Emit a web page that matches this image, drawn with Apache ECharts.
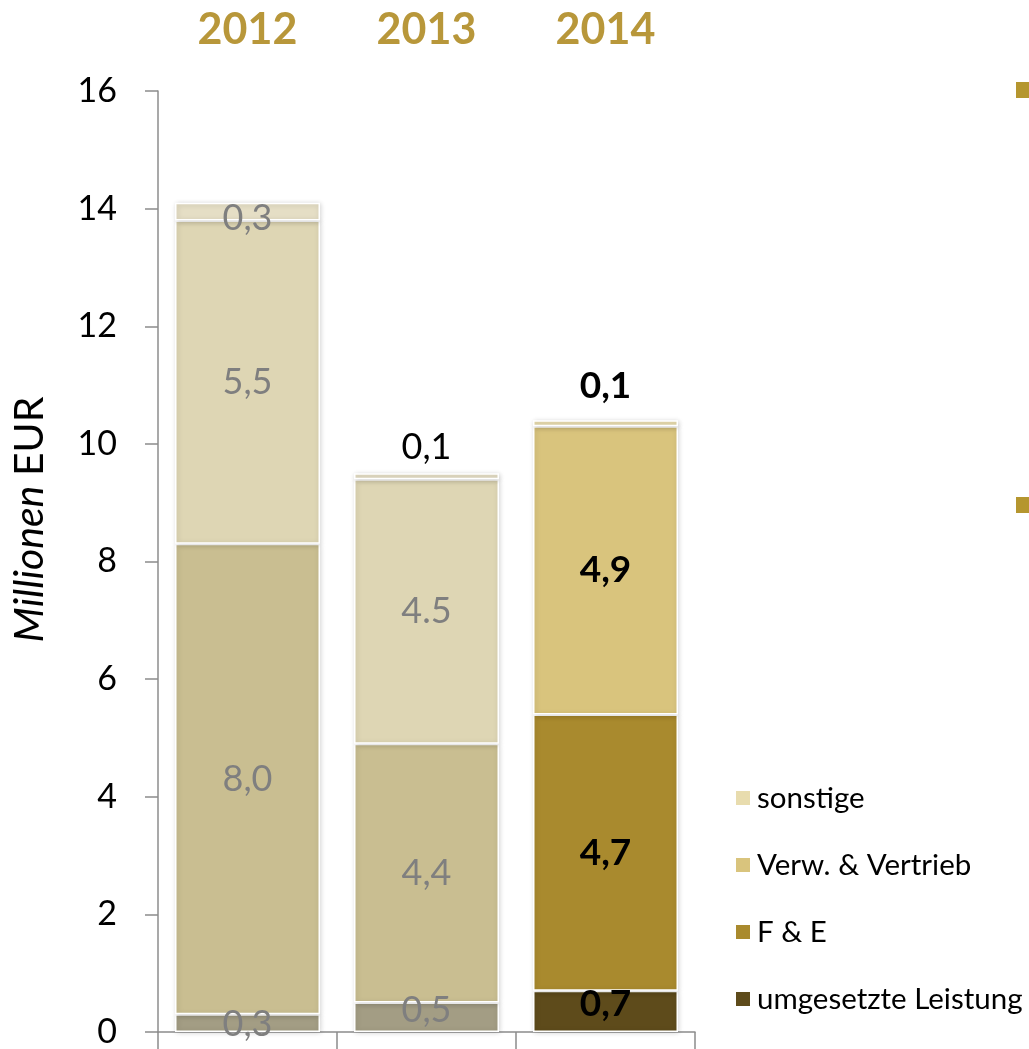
<!DOCTYPE html>
<html>
<head>
<meta charset="utf-8">
<script src="https://cdn.jsdelivr.net/npm/echarts@6/dist/echarts.min.js"></script>
<style>
html,body{margin:0;padding:0;background:#fff;}
#chart{width:1029px;height:1049px;}
</style>
</head>
<body>
<div id="chart"></div>
<script>
// ---- data ----
const categories = ['2012', '2013', '2014'];
const seriesNames = ['umgesetzte Leistung', 'F & E', 'Verw. & Vertrieb', 'sonstige'];
const umgesetzte = [0.3, 0.5, 0.7];
const fuE = [8.0, 4.4, 4.7];
const verw = [5.5, 4.5, 4.9];
const sonstige = [0.3, 0.1, 0.1];
const labelsUmgesetzte = ['0,3', '0,5', '0,7'];
const labelsFuE = ['8,0', '4,4', '4,7'];
const labelsVerw = ['5,5', '4.5', '4,9'];
const labelsSonstige = ['0,3', '0,1', '0,1'];
const legendOrder = ['sonstige', 'Verw. & Vertrieb', 'F & E', 'umgesetzte Leistung'];

// ---- styles ----
const FONT = 'Lato, "Open Sans", "Liberation Sans", sans-serif';
const fullColors = ['#5E4B1B', '#A98A2E', '#D9C47D', '#E8DCAE'];
const mutedColors = ['#A39D84', '#C9BE91', '#DED6B4', '#E5DEC5'];
const highlightIndex = 2;

function buildData(values, labels, sIdx) {
  return values.map(function (v, i) {
    const hi = i === highlightIndex;
    const item = {
      value: v,
      itemStyle: { color: hi ? fullColors[sIdx] : mutedColors[sIdx] },
      label: {
        show: true,
        formatter: labels[i],
        color: hi ? '#000' : '#7F7F7F',
        fontWeight: hi ? 'bold' : 'normal',
        fontSize: hi ? 37 : 36,
        fontFamily: FONT,
        position: 'inside'
      }
    };
    if (sIdx === 0) {
      item.label.offset = [0, i === 0 ? 1 : -7];
    }
    if (sIdx === 3) {
      if (i === 0) {
        item.label.offset = [0, 7];
      } else {
        item.label.position = 'top';
        item.label.color = '#000';
        item.label.distance = i === 1 ? 8 : 16;
      }
    }
    return item;
  });
}

const valueSets = [umgesetzte, fuE, verw, sonstige];
const labelSets = [labelsUmgesetzte, labelsFuE, labelsVerw, labelsSonstige];

const series = seriesNames.map(function (name, sIdx) {
  return {
    name: name,
    type: 'bar',
    stack: 'total',
    barWidth: 145,
    itemStyle: {
      color: fullColors[sIdx],
      borderColor: '#ffffff',
      borderWidth: 1.5,
      shadowColor: 'rgba(0,0,0,0.18)',
      shadowBlur: 5,
      shadowOffsetX: 1,
      shadowOffsetY: 1
    },
    emphasis: { disabled: true },
    data: buildData(valueSets[sIdx], labelSets[sIdx], sIdx)
  };
});

const chart = echarts.init(document.getElementById('chart'), null, { renderer: 'canvas' });
chart.setOption({
  backgroundColor: '#ffffff',
  animation: false,
  textStyle: { fontFamily: FONT },
  grid: { left: 158, right: 334, top: 91, bottom: 12, containLabel: false },
  legend: {
    data: legendOrder,
    orient: 'vertical',
    left: 729,
    top: 777,
    itemWidth: 16,
    itemHeight: 16,
    itemGap: 35,
    icon: 'rect',
    textStyle: { fontSize: 29.5, color: '#000', fontFamily: FONT, lineHeight: 32, padding: [0, 0, 0, 1] }
  },
  xAxis: [
    {
      type: 'category',
      data: categories,
      position: 'bottom',
      axisLine: { show: true, lineStyle: { color: '#8C8C8C', width: 1.5 } },
      axisTick: { show: true, length: 18, lineStyle: { color: '#8C8C8C', width: 1.5 } },
      axisLabel: { show: false }
    },
    {
      type: 'category',
      data: categories,
      position: 'top',
      axisLine: { show: false },
      axisTick: { show: false },
      axisLabel: {
        show: true,
        color: '#B8973A',
        fontWeight: 'bold',
        fontSize: 43,
        fontFamily: FONT,
        margin: 39
      }
    }
  ],
  yAxis: {
    type: 'value',
    min: 0,
    max: 16,
    interval: 2,
    name: '{i|Millionen }{n|EUR}',
    nameLocation: 'middle',
    nameRotate: 90,
    nameGap: 108,
    nameTextStyle: {
      padding: [0, 0, 0, 84],
      rich: {
        i: { fontStyle: 'italic', fontSize: 41, color: '#000', fontFamily: FONT },
        n: { fontSize: 41, color: '#000', fontFamily: FONT }
      }
    },
    axisLine: { show: true, lineStyle: { color: '#8C8C8C', width: 1.5 } },
    axisTick: { show: true, length: 13, lineStyle: { color: '#8C8C8C', width: 1.5 } },
    splitLine: { show: false },
    axisLabel: { color: '#000', fontSize: 34, fontFamily: FONT, margin: 41 }
  },
  graphic: [
    { type: 'rect', shape: { x: 1016, y: 82, width: 14, height: 16 }, style: { fill: '#B5962F' } },
    { type: 'rect', shape: { x: 1016, y: 497, width: 14, height: 16 }, style: { fill: '#B5962F' } }
  ],
  series: series
});
</script>
</body>
</html>
